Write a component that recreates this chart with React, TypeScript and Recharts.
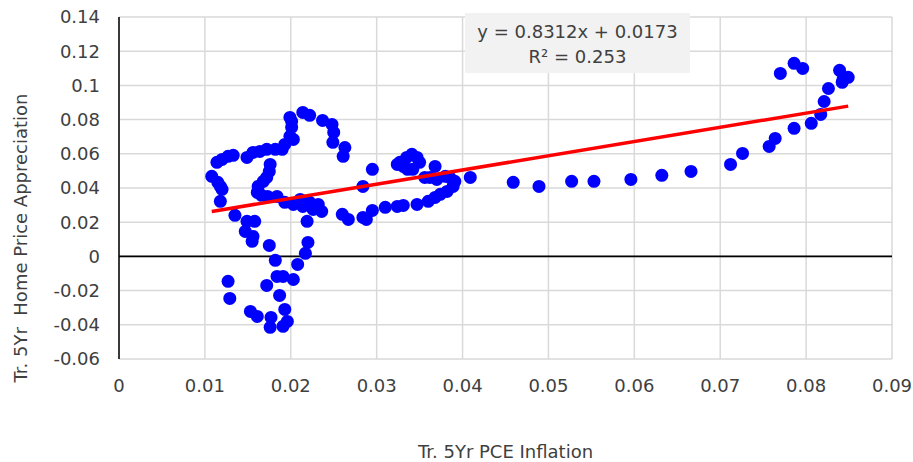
import React from 'react';
import { ScatterChart, Scatter, XAxis, YAxis, CartesianGrid, ReferenceLine } from 'recharts';

// Trailing 5-year PCE inflation (x)
const inflation = [
  0.0108, 0.0114, 0.0120, 0.0127, 0.0133, 0.0115, 0.0118, 0.0120, 0.0118, 0.0135,
  0.0149, 0.0158, 0.0147, 0.0156, 0.0155, 0.0175, 0.0182, 0.0127, 0.0129, 0.0153,
  0.0161, 0.0177, 0.0176, 0.0193, 0.0196, 0.0191, 0.0172, 0.0187, 0.0184, 0.0191,
  0.0203, 0.0208, 0.0217, 0.0220, 0.0219, 0.0149, 0.0156, 0.0164, 0.0172, 0.0182,
  0.0190, 0.0193, 0.0199, 0.0203, 0.0201, 0.0201, 0.0199, 0.0214, 0.0222, 0.0237,
  0.0248, 0.0250, 0.0249, 0.0263, 0.0261, 0.0176, 0.0175, 0.0172, 0.0168, 0.0162,
  0.0161, 0.0166, 0.0173, 0.0184, 0.0193, 0.0203, 0.0211, 0.0214, 0.0222, 0.0232,
  0.0236, 0.0226, 0.0260, 0.0267, 0.0284, 0.0288, 0.0295, 0.0310, 0.0324, 0.0331,
  0.0347, 0.0360, 0.0368, 0.0374, 0.0382, 0.0389, 0.0391, 0.0385, 0.0380, 0.0370,
  0.0362, 0.0356, 0.0368, 0.0284, 0.0295, 0.0327, 0.0335, 0.0341, 0.0347, 0.0350,
  0.0342, 0.0336, 0.0331, 0.0324, 0.0409, 0.0459, 0.0489, 0.0527, 0.0553, 0.0596,
  0.0632, 0.0666, 0.0712, 0.0726, 0.0757, 0.0764, 0.0786, 0.0806, 0.0817, 0.0821,
  0.0826, 0.0842, 0.0839, 0.0843, 0.0849, 0.0770, 0.0786, 0.0796,
];

// Trailing 5-year home price appreciation (y)
const appreciation = [
  0.0468, 0.0550, 0.0567, 0.0585, 0.0591, 0.0433, 0.0409, 0.0392, 0.0322, 0.0240,
  0.0205, 0.0205, 0.0146, 0.0117, 0.0088, 0.0064, -0.0023, -0.0146, -0.0246, -0.0322,
  -0.0351, -0.0357, -0.0415, -0.0310, -0.0380, -0.0409, -0.0170, -0.0228, -0.0117, -0.0117,
  -0.0135, -0.0047, 0.0018, 0.0082, 0.0205, 0.0579, 0.0608, 0.0614, 0.0626, 0.0626,
  0.0626, 0.0655, 0.0702, 0.0684, 0.0754, 0.0790, 0.0813, 0.0842, 0.0825, 0.0795,
  0.0772, 0.0725, 0.0667, 0.0637, 0.0585, 0.0538, 0.0497, 0.0462, 0.0439, 0.0409,
  0.0374, 0.0357, 0.0351, 0.0351, 0.0316, 0.0304, 0.0333, 0.0292, 0.0316, 0.0304,
  0.0263, 0.0275, 0.0246, 0.0216, 0.0228, 0.0216, 0.0269, 0.0287, 0.0292, 0.0298,
  0.0304, 0.0322, 0.0345, 0.0363, 0.0380, 0.0409, 0.0439, 0.0462, 0.0468, 0.0450,
  0.0462, 0.0462, 0.0526, 0.0409, 0.0509, 0.0550, 0.0579, 0.0597, 0.0579, 0.0550,
  0.0509, 0.0509, 0.0526, 0.0538, 0.0462, 0.0433, 0.0409, 0.0439, 0.0439, 0.0450,
  0.0474, 0.0497, 0.0538, 0.0602, 0.0643, 0.0690, 0.0749, 0.0778, 0.0830, 0.0906,
  0.0982, 0.1018, 0.1088, 0.1035, 0.1047, 0.1070, 0.1129, 0.1099,
];

const xTicks = [0, 0.01, 0.02, 0.03, 0.04, 0.05, 0.06, 0.07, 0.08, 0.09];
const yTicks = [-0.06, -0.04, -0.02, 0, 0.02, 0.04, 0.06, 0.08, 0.1, 0.12, 0.14];

const trendSlope = 0.8312;
const trendIntercept = 0.0173;
const equationText = 'y = 0.8312x + 0.0173';
const r2Text = 'R² = 0.253';
const xTitle = 'Tr. 5Yr PCE Inflation';
const yTitle = 'Tr. 5Yr  Home Price Appreciation';

const FONT = '"DejaVu Sans", Verdana, sans-serif';
const TEXT_COLOR = '#404040';

const points = inflation.map((x, i) => ({ x, y: appreciation[i] }));
const xMin = Math.min(...inflation);
const xMax = Math.max(...inflation);
const trend = [
  { x: xMin, y: trendSlope * xMin + trendIntercept },
  { x: xMax, y: trendSlope * xMax + trendIntercept },
];

const Dot = (props: any) => {
  const { cx, cy } = props;
  if (cx == null || cy == null) return <g />;
  return <circle cx={cx} cy={cy} r={6.5} fill="#0000FF" />;
};

const YTitle = () => (
  <text
    x={20}
    y={238}
    transform="rotate(-90 20 238)"
    textAnchor="middle"
    dominantBaseline="central"
    fontFamily={FONT}
    fontSize={18}
    fill={TEXT_COLOR}
    style={{ whiteSpace: 'pre' }}
  >
    {yTitle}
  </text>
);

export default function App() {
  return (
    <div style={{ position: 'relative', width: 913, height: 462, background: '#fff' }}>
      <style>{'body{margin:0;}'}</style>
      <ScatterChart
        width={913}
        height={462}
        margin={{ top: 17, right: 21, bottom: 0, left: 0 }}
      >
        <CartesianGrid stroke="#d9d9d9" strokeWidth={1.5} />
        <XAxis
          type="number"
          dataKey="x"
          domain={[0, 0.09]}
          ticks={xTicks}
          interval={0}
          height={103}
          axisLine={false}
          tickLine={false}
          tickSize={0}
          tickMargin={20}
          tick={{ fontFamily: FONT, fontSize: 18, fill: TEXT_COLOR }}
          tickFormatter={(v: number) => String(v)}
          label={{
            value: xTitle,
            position: 'insideBottom',
            offset: 4,
            style: { fontFamily: FONT, fontSize: 18, fill: TEXT_COLOR },
          }}
        />
        <YAxis
          type="number"
          dataKey="y"
          domain={[-0.06, 0.14]}
          ticks={yTicks}
          interval={0}
          width={119}
          axisLine={{ stroke: '#000', strokeWidth: 1.5 }}
          tickLine={false}
          tickSize={0}
          tickMargin={19}
          tick={{ fontFamily: FONT, fontSize: 18, fill: TEXT_COLOR }}
          tickFormatter={(v: number) => String(v)}
          label={{ content: () => <YTitle /> }}
        />
        <ReferenceLine y={0} stroke="#000" strokeWidth={1.8} />
        <Scatter data={points} shape={Dot} isAnimationActive={false} />
        <Scatter
          data={trend}
          line={{ stroke: '#FF0000', strokeWidth: 3.5 }}
          shape={() => <g />}
          isAnimationActive={false}
        />
      </ScatterChart>
      <div
        style={{
          position: 'absolute',
          left: 465,
          top: 13,
          width: 225,
          height: 60,
          background: '#f2f2f2',
          fontFamily: FONT,
          fontSize: 18,
          color: TEXT_COLOR,
          textAlign: 'center',
          lineHeight: '25px',
          paddingTop: 6,
          boxSizing: 'border-box',
        }}
      >
        <div>{equationText}</div>
        <div>{r2Text}</div>
      </div>
    </div>
  );
}
